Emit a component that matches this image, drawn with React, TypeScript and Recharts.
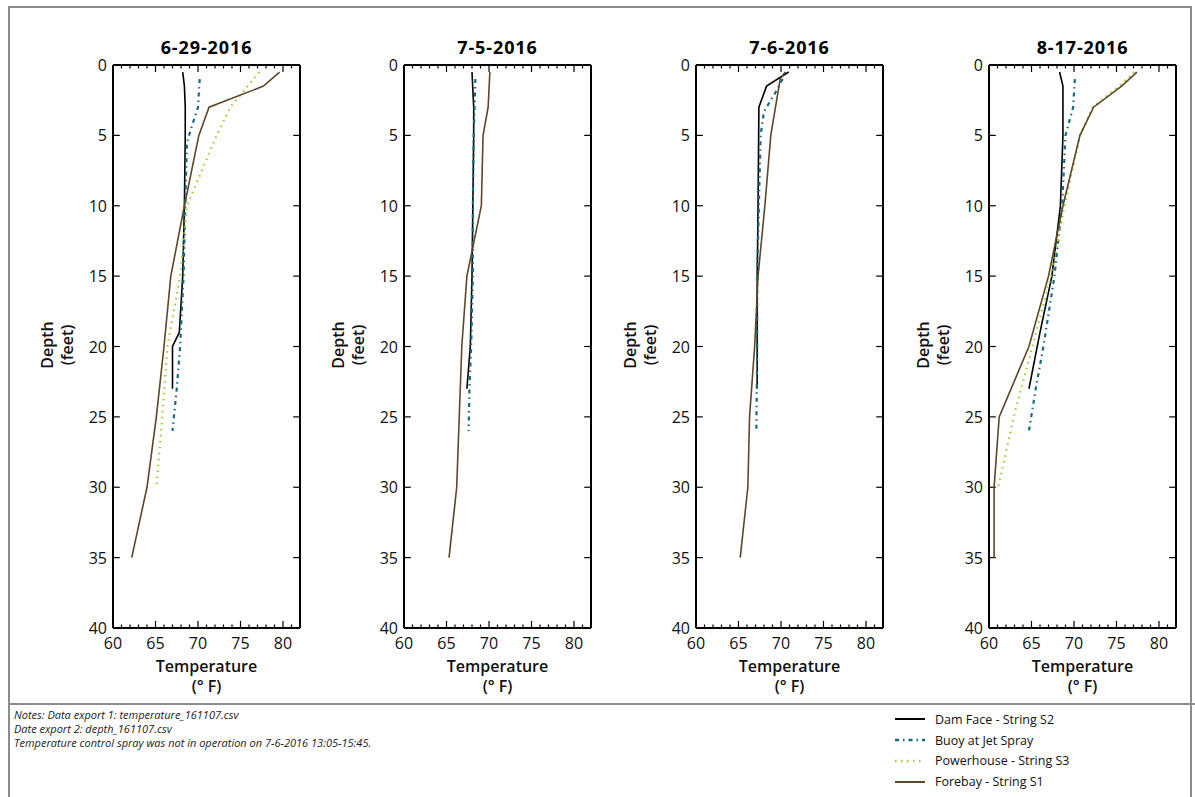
// Temperature profiles by depth, four survey dates
import { ScatterChart, Scatter, XAxis, YAxis, ReferenceLine } from "recharts";

type Pair = [number, number]; // [depth ft, temperature °F]

const dates = ["6-29-2016", "7-5-2016", "7-6-2016", "8-17-2016"];

// 6-29-2016
const dam0629: Pair[] = [[0.5, 68.2], [1.5, 68.4], [3, 68.5], [5, 68.5], [10, 68.4], [15, 68.2], [19, 67.8], [20, 67.0], [23, 67.0]];
const buoy0629: Pair[] = [[1, 70.2], [3, 70.0], [4.5, 69.2], [5.5, 68.7], [10, 68.5], [15, 68.3], [20, 67.9], [23, 67.5], [26, 67.0]];
const power0629: Pair[] = [[0.5, 77.2], [3, 73.8], [5, 72.2], [10, 68.7], [15, 67.9], [20, 66.4], [25, 65.8], [30, 65.1]];
const fore0629: Pair[] = [[0.5, 79.6], [1.5, 77.7], [3, 71.3], [5, 70.1], [10, 68.4], [15, 66.8], [20, 66.0], [25, 65.1], [30, 64.0], [35, 62.2]];

// 7-5-2016
const dam0705: Pair[] = [[0.5, 68.0], [3, 68.2], [5, 68.2], [10, 68.1], [15, 68.0], [20, 67.8], [23, 67.4]];
const buoy0705: Pair[] = [[1, 68.4], [3, 68.3], [5, 68.2], [10, 68.1], [15, 68.1], [20, 67.9], [23, 67.7], [26, 67.6]];
const power0705: Pair[] = [];
const fore0705: Pair[] = [[0.5, 70.1], [3, 69.9], [5, 69.3], [10, 69.1], [15, 67.4], [20, 66.8], [25, 66.5], [30, 66.2], [35, 65.3]];

// 7-6-2016
const dam0706: Pair[] = [[0.5, 70.9], [1.5, 68.3], [3, 67.4], [10, 67.3], [15, 67.2], [23, 67.2]];
const buoy0706: Pair[] = [[1, 70.2], [2, 69.3], [3.3, 68.0], [5, 67.6], [10, 67.4], [15, 67.2], [20, 67.2], [26, 67.1]];
const power0706: Pair[] = [];
const fore0706: Pair[] = [[0.5, 70.5], [1, 69.9], [5, 68.8], [10, 68.1], [15, 67.3], [20, 66.9], [25, 66.3], [30, 66.1], [35, 65.2]];

// 8-17-2016
const dam0817: Pair[] = [[0.5, 68.3], [1.5, 68.7], [5, 68.7], [10, 68.4], [15, 67.4], [19, 66.0], [23, 64.7]];
const buoy0817: Pair[] = [[1, 70.1], [3, 69.9], [5, 69.0], [10, 68.6], [15, 67.7], [20, 66.4], [23, 65.5], [26, 64.7]];
const power0817: Pair[] = [[0.5, 77.1], [1.5, 75.3], [3, 72.2], [5, 70.7], [10, 68.9], [15, 67.3], [20, 65.1], [25, 62.9], [30, 61.1]];
const fore0817: Pair[] = [[0.5, 77.4], [1.5, 75.6], [3, 72.3], [5, 70.7], [10, 68.7], [15, 67.0], [20, 64.7], [25, 61.2], [30, 60.6], [35, 60.6]];

const panels = [
  [dam0629, buoy0629, power0629, fore0629],
  [dam0705, buoy0705, power0705, fore0705],
  [dam0706, buoy0706, power0706, fore0706],
  [dam0817, buoy0817, power0817, fore0817],
];

const seriesNames = ["Dam Face - String S2", "Buoy at Jet Spray", "Powerhouse - String S3", "Forebay - String S1"];
const seriesStyle = [
  { color: "#000000", dash: undefined, width: 1.6 },
  { color: "#166a80", dash: "4 4 1.5 4", width: 2.2 },
  { color: "#9acd32", dash: "1.5 4.5", width: 2.2 },
  { color: "#5e4628", dash: undefined, width: 1.6 },
];

const xTicks = [60, 61, 62, 63, 64, 65, 66, 67, 68, 69, 70, 71, 72, 73, 74, 75, 76, 77, 78, 79, 80, 81, 82];
const yTicks = [0, 5, 10, 15, 20, 25, 30, 35, 40];

const X_MIN = 60, X_MAX = 82, D_MIN = 0, D_MAX = 40;
const plotLefts = [113, 404, 696, 989];
const PLOT_W = 187;
const FONT = "'Open Sans', 'Noto Sans', sans-serif";

const BottomTick = (p: any) => {
  const v = p.payload.value;
  if (v % 5 !== 0) return <g />;
  return (
    <text x={p.x} y={p.y + 15} textAnchor="middle" dominantBaseline="central" fontSize={16} fontFamily={FONT} fill="#111">
      {v}
    </text>
  );
};

const LeftTick = (p: any) => (
  <text x={p.x - 6} y={p.y} textAnchor="end" dominantBaseline="central" fontSize={16} fontFamily={FONT} fill="#111">
    {p.payload.value}
  </text>
);

const toPts = (arr: Pair[]) => arr.map(([d, t]) => ({ d, t }));

// inward tick marks on all four sides, in data units
const tickMarks = () => {
  const segs: { a: { x: number; y: number }; b: { x: number; y: number } }[] = [];
  xTicks.forEach((v) => {
    const len = v % 5 === 0 ? 0.5 : 0.25;
    segs.push({ a: { x: v, y: D_MAX }, b: { x: v, y: D_MAX - len } });
    segs.push({ a: { x: v, y: D_MIN }, b: { x: v, y: D_MIN + len } });
  });
  yTicks.forEach((d) => {
    segs.push({ a: { x: X_MIN, y: d }, b: { x: X_MIN + 0.8, y: d } });
    segs.push({ a: { x: X_MAX, y: d }, b: { x: X_MAX - 0.8, y: d } });
  });
  return segs;
};

const Panel = ({ i }: { i: number }) => {
  const left = plotLefts[i] - 90;
  const cx = 90 + PLOT_W / 2;
  return (
    <div style={{ position: "absolute", left, top: 0, width: 289, height: 700 }}>
      <ScatterChart width={289} height={700} margin={{ top: 65, right: 12, bottom: 42, left: 50 }}>
        <XAxis type="number" dataKey="t" domain={[X_MIN, X_MAX]} ticks={xTicks} interval={0}
          tickSize={0} tickMargin={0} tickLine={false} height={30} axisLine={{ stroke: "#000", strokeWidth: 2 }} tick={BottomTick} allowDataOverflow />
        <YAxis type="number" dataKey="d" domain={[D_MIN, D_MAX]} reversed ticks={yTicks} interval={0}
          tickSize={0} tickMargin={0} tickLine={false} width={40} axisLine={{ stroke: "#000", strokeWidth: 2 }} tick={LeftTick} allowDataOverflow />
        <ReferenceLine y={D_MIN} stroke="#000" strokeWidth={2} ifOverflow="visible" />
        <ReferenceLine x={X_MAX} stroke="#000" strokeWidth={2} ifOverflow="visible" />
        {tickMarks().map((s, k) => (
          <ReferenceLine key={"tk" + k} segment={[s.a, s.b]} stroke="#000" strokeWidth={1.2} ifOverflow="visible" />
        ))}
        {panels[i].map((arr, s) =>
          arr.length ? (
            <Scatter
              key={s}
              name={seriesNames[s]}
              data={toPts(arr)}
              fill={seriesStyle[s].color}
              line={{ stroke: seriesStyle[s].color, strokeWidth: seriesStyle[s].width, strokeDasharray: seriesStyle[s].dash }}
              lineType="joint"
              shape={() => <g />}
              isAnimationActive={false}
            />
          ) : null
        )}
      </ScatterChart>
      <div style={{ position: "absolute", left: cx - 80, width: 160, top: 35, textAlign: "center", fontFamily: FONT, fontWeight: 700, fontSize: 18, letterSpacing: 0.9, lineHeight: "24px" }}>
        {dates[i]}
      </div>
      <div style={{ position: "absolute", left: cx - 80, width: 160, top: 656, textAlign: "center", fontFamily: FONT, fontWeight: 600, fontSize: 16, lineHeight: "20px", color: "#111" }}>
        Temperature
        <br />(° F)
      </div>
      <div style={{ position: "absolute", left: 90 - 56 - 60, top: 345 - 20, width: 120, height: 40, transform: "rotate(-90deg)", textAlign: "center", fontFamily: FONT, fontWeight: 600, fontSize: 16, lineHeight: "20px", color: "#111" }}>
        Depth
        <br />(feet)
      </div>
    </div>
  );
};

const LegendRow = ({ s }: { s: number }) => (
  <div style={{ display: "flex", alignItems: "center", height: 20.8 }}>
    <svg width={42} height={10}>
      <line x1={2} x2={32} y1={5} y2={5} stroke={seriesStyle[s].color} strokeWidth={seriesStyle[s].width + 0.4} strokeDasharray={seriesStyle[s].dash} />
    </svg>
    <span style={{ fontFamily: FONT, fontSize: 12.5, color: "#111" }}>{seriesNames[s]}</span>
  </div>
);

export default function App() {
  return (
    <div style={{ position: "relative", width: 1195, height: 797, background: "#fff", overflow: "hidden" }}>
      <style>{"body{margin:0}"}</style>
      <div style={{ position: "absolute", left: 8, top: 6, width: 1184, height: 800, border: "2px solid #8c8c8c", boxSizing: "border-box" }} />
      <div style={{ position: "absolute", left: 8, top: 703, width: 1187, height: 2, background: "#8c8c8c" }} />
      {[0, 1, 2, 3].map((i) => (
        <Panel key={i} i={i} />
      ))}
      <div style={{ position: "absolute", left: 14, top: 708, fontFamily: FONT, fontStyle: "italic", fontSize: 11, lineHeight: "14px", color: "#222" }}>
        Notes: Data export 1: temperature_161107.csv
        <br />
        Date export 2: depth_161107.csv
        <br />
        Temperature control spray was not in operation on 7-6-2016 13:05-15:45.
      </div>
      <div style={{ position: "absolute", left: 893, top: 709 }}>
        {[0, 1, 2, 3].map((s) => (
          <LegendRow key={s} s={s} />
        ))}
      </div>
    </div>
  );
}
